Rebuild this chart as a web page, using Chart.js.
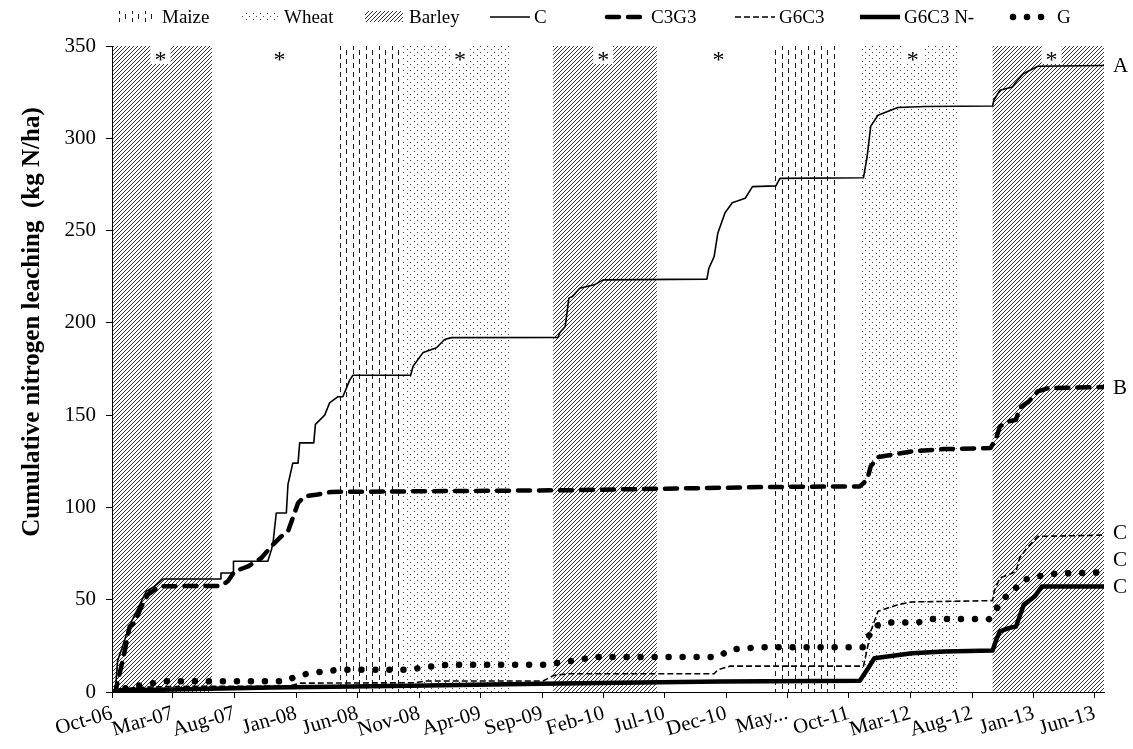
<!DOCTYPE html>
<html>
<head>
<meta charset="utf-8">
<script src="https://cdn.jsdelivr.net/npm/chart.js@4.4.1/dist/chart.umd.min.js"></script>
<style>
  body { margin: 0; background: #fff; }
  canvas { display: block; }
</style>
</head>
<body>
<canvas id="leaching" width="1133" height="749"></canvas>
<script>
// time axis: days counted from the first date
var startDate = "2006-10-01";
var endDate = "2013-06-24";

var tickDates = ["2006-10-01", "2007-03-01", "2007-08-01", "2008-01-01", "2008-06-01", "2008-11-01",
    "2009-04-01", "2009-09-01", "2010-02-01", "2010-07-01", "2010-12-01", "2011-05-01",
    "2011-10-01", "2012-03-01", "2012-08-01", "2013-01-01", "2013-06-01"];
var tickLabels = ["Oct-06", "Mar-07", "Aug-07", "Jan-08", "Jun-08", "Nov-08", "Apr-09", "Sep-09",
    "Feb-10", "Jul-10", "Dec-10", "May...", "Oct-11", "Mar-12", "Aug-12", "Jan-13", "Jun-13"];

// crop periods shaded behind the curves
var cropNames  = ["Barley", "Maize", "Wheat", "Barley", "Maize", "Wheat", "Barley"];
var cropStarts = ["2006-10-01", "2008-04-13", "2008-09-20", "2009-09-28", "2011-03-24", "2011-10-28", "2012-09-21"];
var cropEnds   = ["2007-06-06", "2008-09-20", "2009-06-15", "2010-06-12", "2011-08-30", "2012-06-27", "2013-06-24"];
var legendCrops = ["Maize", "Wheat", "Barley"];

// periods marked with an asterisk
var starDates = ["2007-01-29", "2007-11-20", "2009-02-09", "2010-01-30", "2010-11-12", "2012-03-07", "2013-02-14"];

var seriesNames = ["C", "C3G3", "G6C3", "G6C3 N-", "G"];
var endLetters = ["A", "B", "C", "C", "C"];

var cDates = ["2006-10-01", "2006-10-09", "2006-10-15", "2006-10-26", "2006-11-10", "2006-11-14", "2006-11-18",
    "2006-12-25", "2007-01-15", "2007-02-04", "2007-06-27", "2007-06-28", "2007-07-28", "2007-07-29",
    "2007-10-22", "2007-10-31", "2007-11-04", "2007-11-12", "2007-12-07", "2007-12-11", "2007-12-23",
    "2008-01-05", "2008-01-09", "2008-02-13", "2008-02-17", "2008-03-11", "2008-03-23", "2008-04-13",
    "2008-04-25", "2008-05-12", "2008-05-20", "2008-10-10", "2008-10-16", "2008-11-10", "2008-12-13",
    "2009-01-02", "2009-01-19", "2009-10-10", "2009-10-14", "2009-10-28", "2009-11-06", "2009-11-15",
    "2009-12-03", "2010-01-08", "2010-01-30", "2010-10-14", "2010-10-19", "2010-11-01", "2010-11-10",
    "2010-11-28", "2010-12-16", "2011-01-17", "2011-02-04", "2011-04-03", "2011-04-13", "2011-11-06",
    "2011-11-15", "2011-11-24", "2011-12-12", "2012-01-30", "2012-04-07", "2012-09-21", "2012-09-24",
    "2012-10-09", "2012-11-09", "2012-11-18", "2012-12-06", "2013-01-11", "2013-06-24"];
var cValues = [0, 0, 17, 24, 34, 36, 38,
    54.6, 57.3, 61.2, 61.2, 64.5, 64.5, 70.8,
    70.8, 77, 80.8, 97, 97, 112.4, 124,
    124, 135, 135, 145, 150, 156.6, 160,
    160, 169, 171.6, 171.6, 176.5, 184, 186.5,
    191, 192, 192.1, 194.5, 198, 213.4, 214.3,
    218.8, 220.6, 223.3, 223.7, 229.6, 235.9, 248.5,
    259.7, 265.1, 267.5, 273.8, 274.2, 278.3, 278.6,
    290, 306.6, 312.5, 316.7, 317.2, 317.5, 320.6,
    326, 327.8, 330.5, 335, 339, 339.4];

var c3g3Dates = ["2006-10-01", "2006-10-09", "2006-10-28", "2006-11-14", "2006-11-26", "2006-12-13", "2006-12-29",
    "2007-01-27", "2007-06-29", "2007-07-15", "2007-08-01", "2007-09-03", "2007-10-06", "2007-10-31",
    "2007-11-25", "2007-12-11", "2008-01-05", "2008-01-21", "2008-02-23", "2008-03-27", "2009-10-27",
    "2011-03-25", "2011-10-28", "2011-11-15", "2011-11-24", "2011-12-12", "2012-03-05", "2012-05-24",
    "2012-09-16", "2012-09-30", "2012-10-09", "2012-10-31", "2012-11-18", "2012-11-27", "2012-12-20",
    "2013-01-11", "2013-02-07", "2013-06-24"];
var c3g3Values = [0, 0, 17.5, 35.6, 37.4, 46.4, 52.8,
    57.3, 57.5, 60, 65.4, 68, 72.6, 79,
    84.4, 87, 102.4, 106, 107, 108.4, 109.3,
    111.1, 111.4, 115, 122.2, 127.3, 130.4, 131.6,
    132.2, 137.6, 143.9, 146.6, 147.5, 153.9, 157.5,
    162.9, 164.7, 165.2];

var g6c3Dates = ["2006-10-01", "2006-10-16", "2006-12-04", "2007-02-28", "2007-12-15", "2008-01-09", "2008-10-20",
    "2008-11-19", "2009-09-03", "2009-09-30", "2009-11-06", "2010-11-01", "2010-11-10", "2010-12-10",
    "2011-11-06", "2011-11-15", "2011-11-24", "2011-12-12", "2012-01-30", "2012-03-05", "2012-09-21",
    "2012-09-25", "2012-10-09", "2012-10-31", "2012-11-18", "2012-11-27", "2012-12-15", "2013-01-11",
    "2013-06-24"];
var g6c3Values = [0, 1.5, 2.5, 3, 3.2, 4.8, 5,
    6, 6, 9, 9.9, 9.9, 12, 14,
    14, 23, 32.9, 43.7, 47.3, 48.8, 49.5,
    54.6, 61.8, 63.6, 65.4, 72.6, 78, 84.3,
    85];

var g6c3nDates = ["2006-10-01", "2006-10-21", "2007-02-28", "2007-10-31", "2008-10-10", "2009-08-26", "2010-11-19",
    "2011-10-28", "2011-11-15", "2011-12-03", "2012-03-05", "2012-05-24", "2012-09-21", "2012-09-30",
    "2012-10-09", "2012-10-31", "2012-11-18", "2012-12-07", "2013-01-03", "2013-01-21", "2013-06-24"];
var g6c3nValues = [0, 1, 1.3, 2.5, 3.4, 4.5, 5.7,
    6.1, 12, 18.3, 21, 22, 22.5, 28.3,
    32.8, 34.6, 35.5, 47.2, 51.7, 57.1, 57.1];

var gDates = ["2006-10-01", "2006-10-21", "2006-12-04", "2007-02-08", "2007-12-03", "2008-01-05", "2008-02-07",
    "2008-03-11", "2008-04-13", "2008-10-12", "2008-11-10", "2008-12-09", "2009-01-11", "2009-09-04",
    "2009-11-06", "2010-01-08", "2010-11-10", "2010-12-11", "2011-02-17", "2011-11-06", "2011-11-19",
    "2011-12-03", "2012-01-04", "2012-03-20", "2012-04-25", "2012-09-12", "2012-10-05", "2012-10-14",
    "2012-11-05", "2012-12-07", "2013-01-12", "2013-02-08", "2013-04-12", "2013-06-24"];
var gValues = [0, 1.5, 3.4, 5.8, 5.8, 8.9, 10.3,
    11.2, 12, 12.1, 13.5, 13.9, 14.8, 14.8,
    16.6, 19, 19, 23, 24.2, 24.2, 30.2,
    35.6, 37.7, 37.7, 39.5, 39.5, 46.4, 50,
    53.6, 60.8, 62.6, 63.9, 64.4, 64.8];

var yTitle = "Cumulative nitrogen leaching  (kg N/ha)";

const serif = "'Liberation Serif', 'Times New Roman', serif";
const t0 = Date.parse(startDate);
const dayOf = d => Math.round((Date.parse(d) - t0) / 86400000);
const tickDays = tickDates.map(dayOf);

function points(dates, values) {
    return dates.map((d, i) => ({ x: dayOf(d), y: values[i] }));
}

/* fill patterns for the three crops */
function makePattern(kind) {
    var c = document.createElement("canvas");
    var g;
    if (kind === "Barley") {
        c.width = 4; c.height = 4;
        g = c.getContext("2d");
        g.strokeStyle = "#333";
        g.lineWidth = 1;
        g.beginPath();
        g.moveTo(0, 4); g.lineTo(4, 0);
        g.moveTo(-1, 1); g.lineTo(1, -1);
        g.moveTo(3, 5); g.lineTo(5, 3);
        g.stroke();
    } else if (kind === "Maize") {
        // short vertical dashes, every other column shifted half a period
        c.width = 13; c.height = 9;
        g = c.getContext("2d");
        g.fillStyle = "#1a1a1a";
        g.fillRect(2, 0, 1, 5);
        g.fillRect(8, 5, 1, 4);
        g.fillRect(8, 0, 1, 1);
    } else {
        c.width = 7; c.height = 6;
        g = c.getContext("2d");
        g.fillStyle = "#444";
        g.fillRect(1, 1, 1, 1);
        g.fillRect(4, 4, 1, 1);
    }
    return document.getElementById("leaching").getContext("2d").createPattern(c, "repeat");
}
const patterns = { Maize: makePattern("Maize"), Wheat: makePattern("Wheat"), Barley: makePattern("Barley") };

const cropBands = {
    id: "cropBands",
    beforeDraw(chart) {
        const { ctx, chartArea } = chart;
        const xs = chart.scales.x;
        ctx.save();
        cropNames.forEach((name, i) => {
            const x0 = Math.max(xs.getPixelForValue(dayOf(cropStarts[i])), chartArea.left);
            const x1 = Math.min(xs.getPixelForValue(dayOf(cropEnds[i])), chartArea.right);
            ctx.fillStyle = patterns[name];
            ctx.fillRect(x0, chartArea.top, x1 - x0, chartArea.bottom - chartArea.top);
        });
        ctx.restore();
    }
};

const stars = {
    id: "stars",
    afterDatasetsDraw(chart) {
        const { ctx, chartArea } = chart;
        const xs = chart.scales.x;
        ctx.save();
        ctx.font = "24px " + serif;
        ctx.textAlign = "center";
        ctx.textBaseline = "alphabetic";
        starDates.forEach(d => {
            const day = dayOf(d);
            const x = xs.getPixelForValue(day);
            const inBand = cropNames.some((n, i) => day >= dayOf(cropStarts[i]) && day <= dayOf(cropEnds[i]));
            if (inBand) {
                ctx.fillStyle = "#fff";
                ctx.fillRect(x - 10, chartArea.top, 20, 18);
            }
            ctx.fillStyle = "#000";
            ctx.fillText("*", x, chartArea.top + 21);
        });
        ctx.restore();
    }
};

/* letters at the end of each curve, pushed apart when they crowd */
const endLabels = {
    id: "endLabels",
    afterDraw(chart) {
        const { ctx, chartArea } = chart;
        const ys = chart.scales.y;
        const items = chart.data.datasets.map((ds, i) => ({
            y: ys.getPixelForValue(ds.data[ds.data.length - 1].y),
            text: endLetters[i]
        })).sort((a, b) => b.y - a.y);
        for (let i = 1; i < items.length; i++) {
            items[i].y = Math.min(items[i].y, items[i - 1].y - 27);
        }
        ctx.save();
        ctx.font = "21px " + serif;
        ctx.fillStyle = "#000";
        ctx.textBaseline = "middle";
        items.forEach(it => ctx.fillText(it.text, chartArea.right + 9, it.y + 1));
        ctx.restore();
    }
};

const axisTitle = {
    id: "axisTitle",
    afterDraw(chart) {
        const ctx = chart.ctx;
        ctx.save();
        ctx.translate(33, 322);
        ctx.rotate(-Math.PI / 2);
        ctx.font = "bold 25px " + serif;
        ctx.fillStyle = "#000";
        ctx.textAlign = "center";
        ctx.textBaseline = "middle";
        ctx.fillText(yTitle, 0, 0);
        ctx.restore();
    }
};

const topLegend = {
    id: "topLegend",
    afterDraw(chart) {
        const ctx = chart.ctx;
        const xs = [118, 240, 365, 490, 607, 735, 860, 1013];
        const y = 17;
        ctx.save();
        ctx.font = "19px " + serif;
        ctx.textBaseline = "middle";
        legendCrops.forEach((name, i) => {
            ctx.fillStyle = patterns[name];
            ctx.fillRect(xs[i], y - 6, 38, 11);
            ctx.fillStyle = "#000";
            ctx.fillText(name, xs[i] + 44, y + 1);
        });
        chart.data.datasets.forEach((ds, j) => {
            const x = xs[legendCrops.length + j];
            ctx.save();
            ctx.strokeStyle = ds.borderColor;
            ctx.lineWidth = ds.borderWidth;
            ctx.setLineDash(ds.borderDash || []);
            ctx.lineCap = ds.borderCapStyle || "butt";
            ctx.beginPath();
            ctx.moveTo(x, y);
            ctx.lineTo(x + 40, y);
            ctx.stroke();
            ctx.restore();
            ctx.fillStyle = "#000";
            ctx.fillText(ds.label, x + 44, y + 1);
        });
        ctx.restore();
    }
};

const lineBase = { borderColor: "#000", pointRadius: 0, tension: 0, fill: false, borderJoinStyle: "round" };

new Chart("leaching", {
    type: "line",
    data: {
        datasets: [
            Object.assign({ label: seriesNames[0], data: points(cDates, cValues), borderWidth: 1.6 }, lineBase),
            Object.assign({ label: seriesNames[1], data: points(c3g3Dates, c3g3Values), borderWidth: 4.5,
                borderDash: [12, 9], borderCapStyle: "round" }, lineBase),
            Object.assign({ label: seriesNames[2], data: points(g6c3Dates, g6c3Values), borderWidth: 1.6,
                borderDash: [6, 3] }, lineBase),
            Object.assign({ label: seriesNames[3], data: points(g6c3nDates, g6c3nValues), borderWidth: 4.5 }, lineBase),
            Object.assign({ label: seriesNames[4], data: points(gDates, gValues), borderWidth: 6.5,
                borderDash: [0.01, 14], borderCapStyle: "round" }, lineBase)
        ]
    },
    options: {
        responsive: false,
        animation: false,
        layout: { padding: { top: 46, right: 29, left: 0, bottom: 0 } },
        plugins: {
            legend: { display: false },
            tooltip: { enabled: false }
        },
        scales: {
            x: {
                type: "linear",
                bounds: "data",
                min: 0,
                max: dayOf(endDate),
                afterBuildTicks: axis => { axis.ticks = tickDays.map(v => ({ value: v })); },
                afterFit: axis => { axis.height = 57; },
                grid: { drawOnChartArea: false, drawTicks: true, tickLength: 6, tickColor: "#000" },
                border: { display: true, color: "#000", width: 1 },
                ticks: {
                    autoSkip: false,
                    minRotation: 16,
                    maxRotation: 16,
                    padding: 3,
                    color: "#000",
                    font: { family: serif, size: 21 },
                    callback: v => {
                        const i = tickDays.indexOf(v);
                        return i >= 0 ? tickLabels[i] : "";
                    }
                }
            },
            y: {
                min: 0,
                max: 350,
                afterFit: axis => { axis.width = 112; },
                grid: { drawOnChartArea: false, drawTicks: true, tickLength: 6, tickColor: "#000" },
                border: { display: true, color: "#000", width: 1 },
                ticks: {
                    stepSize: 50,
                    padding: 10,
                    color: "#000",
                    font: { family: serif, size: 21 }
                }
            }
        }
    },
    plugins: [cropBands, stars, endLabels, axisTitle, topLegend]
});
</script>
</body>
</html>
